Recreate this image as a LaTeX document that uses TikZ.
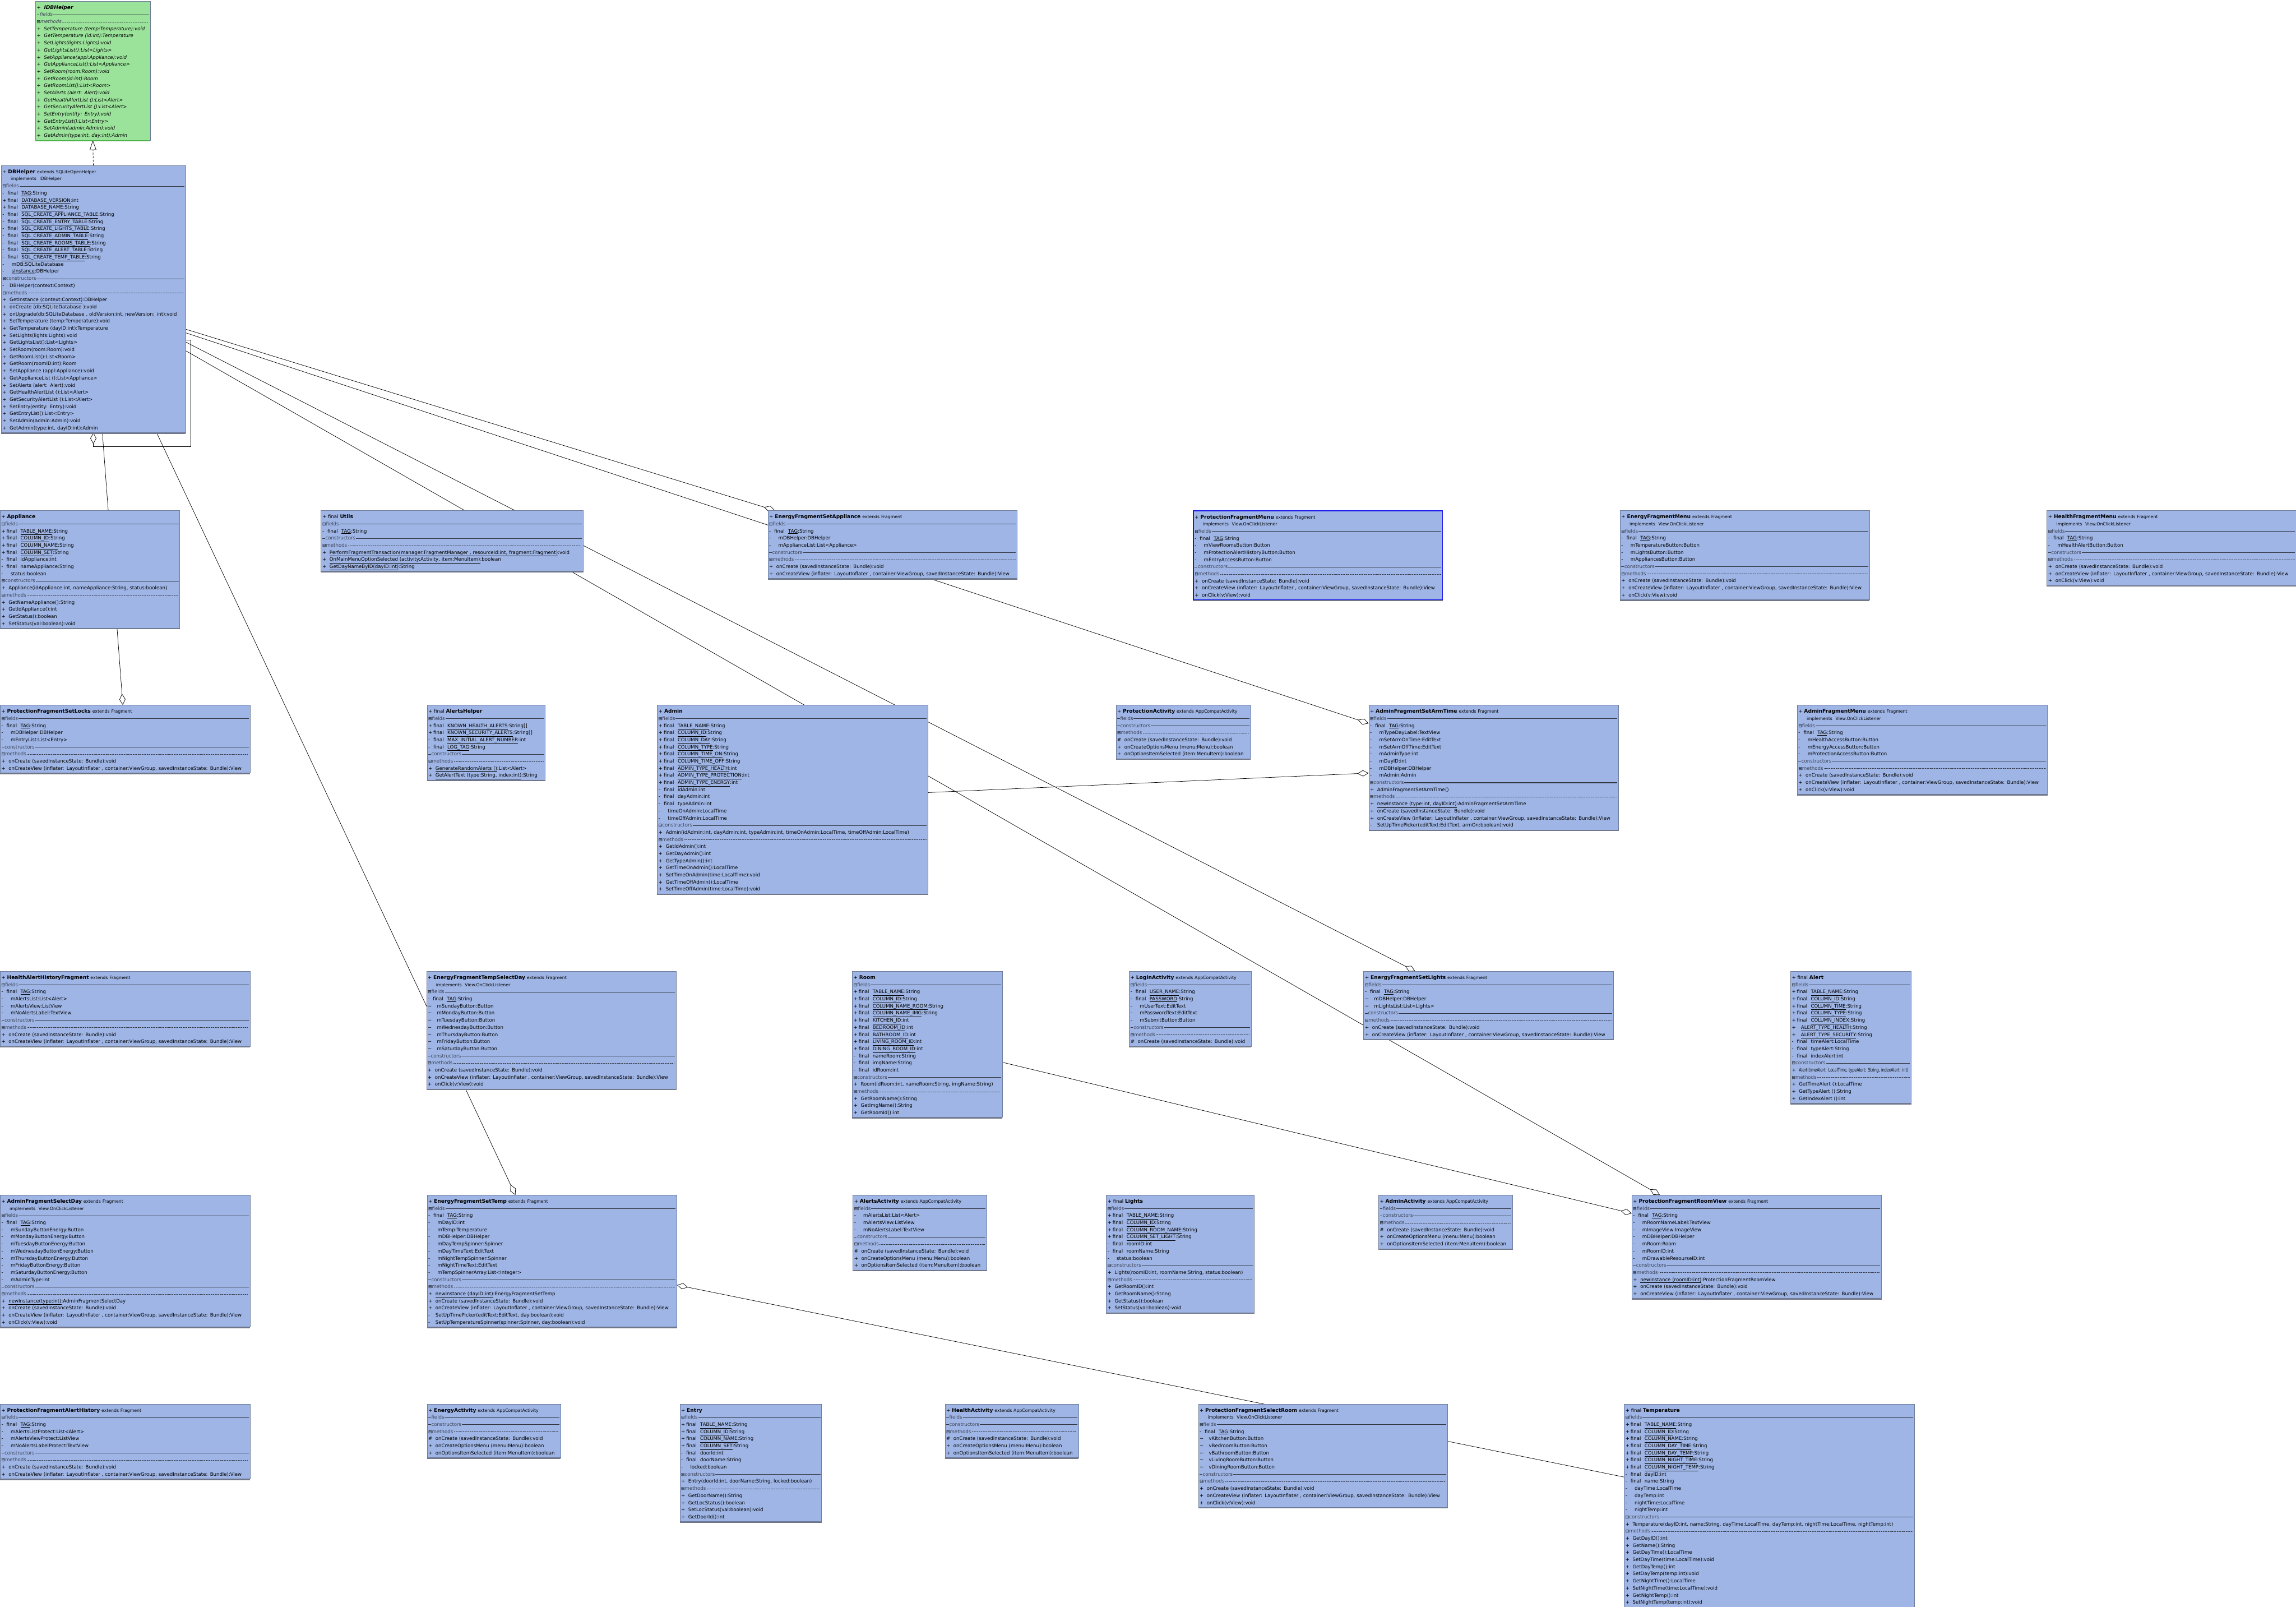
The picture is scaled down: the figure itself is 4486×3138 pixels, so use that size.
\documentclass[tikz,border=0pt]{standalone}
\usepackage{fontspec}
\usepackage{graphicx}
\setmainfont{DejaVu Sans}
\newfontfamily\symf{DejaVu Sans}
\usetikzlibrary{arrows.meta,calc}
\definecolor{clsblue}{RGB}{158,181,229}
\definecolor{clsgreen}{RGB}{155,227,155}
\definecolor{bordc}{RGB}{110,124,155}
\definecolor{shadowc}{RGB}{112,118,135}
\definecolor{hdrc}{RGB}{60,66,86}
\definecolor{rulec}{RGB}{50,54,66}
\definecolor{selc}{RGB}{20,20,235}
\pgfdeclarelayer{bg}
\pgfsetlayers{bg,main}
\newcommand\clLine[1]{\par\hbox to\hsize{\strut#1\hss}}
\newcommand\clRule{\leaders\hrule height 3.4pt depth -2.3pt\hfill}
\newcommand\clDots{\leaders\hbox to 1.6pt{\hss\vrule height 3.2pt depth -2.5pt width 0.7pt\hss}\hfill}
\newcommand\clBox{{\symf\fontsize{8.5}{8.5}\selectfont ⊟}}
\newcommand\clSec[1]{\par\hbox to\hsize{\strut\clBox{\color{hdrc}#1}\kern1pt{\color{rulec}\clRule}}}
\newcommand\clSecM[1]{\par\hbox to\hsize{\strut\clBox{\color{hdrc}#1}\kern1pt{\color{rulec}\clDots}}}
\newcommand\clSecE[1]{\par\hbox to\hsize{\strut{\color{rulec}\vrule height 3.4pt depth -2.3pt width 5pt}\kern1pt{\color{hdrc}#1}\kern1pt{\color{rulec}\clRule}}}
\newcommand\clTitle[3]{\clLine{#1{\fontsize{10}{13.9}\selectfont\bfseries #2}\ {\fontsize{8.5}{13.9}\selectfont #3}}}
\newcommand\clImpl[1]{\clLine{\hspace{16pt}{\fontsize{8.5}{13.9}\selectfont implements\ \ #1}}}
\newcommand\clSF[3]{\clLine{\makebox[10pt][l]{#1}final\hspace{7pt}\underline{#2}:#3}}
\newcommand\clFi[2]{\clLine{\makebox[10pt][l]{#1}final\hspace{7pt}#2}}
\newcommand\clSt[3]{\clLine{\makebox[10pt][l]{#1}\hspace{8pt}\underline{#2}#3}}
\newcommand\clP[2]{\clLine{\makebox[10pt][l]{#1}\hspace{8pt}#2}}
\newcommand\clMe[2]{\clLine{\makebox[10pt][l]{#1}\hspace{4pt}#2}}
\newcommand\clMeU[3]{\clLine{\makebox[10pt][l]{#1}\hspace{4pt}\underline{#2}#3}}
\newcommand\tld{\textasciitilde}
\newcommand\clTag{\clSF{-}{TAG}{String}}
\newcommand\clOnCreate{\clMe{+}{onCreate (savedInstanceState: Bundle):void}}
\newcommand\clOnCreateView{\clMe{+}{onCreateView (inflater: LayoutInflater , container:ViewGroup, savedInstanceState: Bundle):View}}
\newcommand\clOnClick{\clMe{+}{onClick(v:View):void}}
\newcommand\clActMethods{\clMe{\#}{onCreate (savedInstanceState: Bundle):void}\clMe{+}{onCreateOptionsMenu (menu:Menu):boolean}\clMe{+}{onOptionsItemSelected (item:MenuItem):boolean}}
\tikzset{
  cls/.style={draw=bordc, line width=0.7pt, fill=clsblue, anchor=north west, inner xsep=2.5pt, inner ysep=1.5pt, align=left, font={\fontsize{9.4}{13.9}\selectfont\lineskiplimit=-100pt}},
  conn/.style={line width=0.8pt, draw=black},
  agg/.style={conn, -{Diamond[length=22pt,width=12pt,fill=white]}},
  real/.style={conn, dash pattern=on 4pt off 3pt, -{Triangle[length=19pt,width=13pt,fill=white]}},
  shadowline/.style={draw=shadowc, line width=2pt}
}
\begin{document}
\begin{tikzpicture}[x=1pt,y=-1pt]
\useasboundingbox (0,0) rectangle (4486,3138);
\begin{pgfonlayer}{bg}
\fill[white] (0,0) rectangle (4486,3138);
\end{pgfonlayer}

% ---------------- row 0 / 1
\node[cls, fill=clsgreen, text width=219pt, font={\fontsize{9.4}{13.9}\selectfont\lineskiplimit=-100pt\itshape}] (idb) at (69,2) {%
\clTitle{+\ \ }{IDBHelper}{}
\clSecE{fields}
\clSecM{methods}
\clMe{+}{SetTemperature (temp:Temperature):void}
\clMe{+}{GetTemperature (id:int):Temperature}
\clMe{+}{SetLights(lights:Lights):void}
\clMe{+}{GetLightsList():List<Lights>}
\clMe{+}{SetAppliance(appl:Appliance):void}
\clMe{+}{GetApplianceList():List<Appliance>}
\clMe{+}{SetRoom(room:Room):void}
\clMe{+}{GetRoom(id:int):Room}
\clMe{+}{GetRoomList():List<Room>}
\clMe{+}{SetAlerts (alert: Alert):void}
\clMe{+}{GetHealthAlertList ():List<Alert>}
\clMe{+}{GetSecurityAlertList ():List<Alert>}
\clMe{+}{SetEntry(entity: Entry):void}
\clMe{+}{GetEntryList():List<Entry>}
\clMe{+}{SetAdmin(admin:Admin):void}
\clMe{+}{GetAdmin(type:int, day:int):Admin}};

\node[cls, text width=355pt] (dbh) at (2,323) {%
\clTitle{+\ }{DBHelper}{extends SQLiteOpenHelper}
\clImpl{IDBHelper}
\clSec{fields}
\clTag
\clSF{+}{DATABASE\_VERSION}{int}
\clSF{+}{DATABASE\_NAME}{String}
\clSF{-}{SQL\_CREATE\_APPLIANCE\_TABLE}{String}
\clSF{-}{SQL\_CREATE\_ENTRY\_TABLE}{String}
\clSF{-}{SQL\_CREATE\_LIGHTS\_TABLE}{String}
\clSF{-}{SQL\_CREATE\_ADMIN\_TABLE}{String}
\clSF{-}{SQL\_CREATE\_ROOMS\_TABLE}{String}
\clSF{-}{SQL\_CREATE\_ALERT\_TABLE}{String}
\clSF{-}{SQL\_CREATE\_TEMP\_TABLE}{String}
\clP{-}{mDB:SQLiteDatabase}
\clSt{-}{sInstance}{:DBHelper}
\clSec{constructors}
\clMe{-}{DBHelper(context:Context)}
\clSecM{methods}
\clMeU{+}{GetInstance (context:Context)}{:DBHelper}
\clMe{+}{onCreate (db:SQLiteDatabase ):void}
\clMe{+}{onUpgrade(db:SQLiteDatabase , oldVersion:int, newVersion: int):void}
\clMe{+}{SetTemperature (temp:Temperature):void}
\clMe{+}{GetTemperature (dayID:int):Temperature}
\clMe{+}{SetLights(lights:Lights):void}
\clMe{+}{GetLightsList():List<Lights>}
\clMe{+}{SetRoom(room:Room):void}
\clMe{+}{GetRoomList():List<Room>}
\clMe{+}{GetRoom(roomID:int):Room}
\clMe{+}{SetAppliance (appl:Appliance):void}
\clMe{+}{GetApplianceList ():List<Appliance>}
\clMe{+}{SetAlerts (alert: Alert):void}
\clMe{+}{GetHealthAlertList ():List<Alert>}
\clMe{+}{GetSecurityAlertList ():List<Alert>}
\clMe{+}{SetEntry(entity: Entry):void}
\clMe{+}{GetEntryList():List<Entry>}
\clMe{+}{SetAdmin(admin:Admin):void}
\clMe{+}{GetAdmin(type:int, dayID:int):Admin}};

% ---------------- row 2
\node[cls, text width=346pt] (appl) at (0,997) {%
\clTitle{+\ }{Appliance}{}
\clSec{fields}
\clSF{+}{TABLE\_NAME}{String}
\clSF{+}{COLUMN\_ID}{String}
\clSF{+}{COLUMN\_NAME}{String}
\clSF{+}{COLUMN\_SET}{String}
\clFi{-}{idAppliance:int}
\clFi{-}{nameAppliance:String}
\clP{-}{status:boolean}
\clSec{constructors}
\clMe{+}{Appliance(idAppliance:int, nameAppliance:String, status:boolean)}
\clSecM{methods}
\clMe{+}{GetNameAppliance():String}
\clMe{+}{GetIdAppliance():int}
\clMe{+}{GetStatus():boolean}
\clMe{+}{SetStatus(val:boolean):void}};

\node[cls, text width=507pt] (utils) at (627,997) {%
\clTitle{+ final\ }{Utils}{}
\clSec{fields}
\clTag
\clSecE{constructors}
\clSecM{methods}
\clMeU{+}{PerformFragmentTransaction(manager:FragmentManager , resourceId:int, fragment:Fragment)}{:void}
\clMeU{+}{OnMainMenuOptionSelected (activity:Activity, item:MenuItem)}{:boolean}
\clMeU{+}{GetDayNameByID(dayID:int)}{:String}};

\node[cls, text width=482pt] (efsa) at (1500,997) {%
\clTitle{+\ }{EnergyFragmentSetAppliance}{extends Fragment}
\clSec{fields}
\clTag
\clP{-}{mDBHelper:DBHelper}
\clP{-}{mApplianceList:List<Appliance>}
\clSecE{constructors}
\clSecM{methods}
\clOnCreate
\clOnCreateView};

\node[cls, draw=selc, line width=1.4pt, text width=482pt] (pfm) at (2331,997) {%
\clTitle{+\ }{ProtectionFragmentMenu}{extends Fragment}
\clImpl{View.OnClickListener}
\clSec{fields}
\clTag
\clP{-}{mViewRoomsButton:Button}
\clP{-}{mProtectionAlertHistoryButton:Button}
\clP{-}{mEntryAccessButton:Button}
\clSecE{constructors}
\clSecM{methods}
\clOnCreate
\clOnCreateView
\clOnClick};

\node[cls, text width=482pt] (efm) at (3165,997) {%
\clTitle{+\ }{EnergyFragmentMenu}{extends Fragment}
\clImpl{View.OnClickListener}
\clSec{fields}
\clTag
\clP{-}{mTemperatureButton:Button}
\clP{-}{mLightsButton:Button}
\clP{-}{mAppliancesButton:Button}
\clSecE{constructors}
\clSecM{methods}
\clOnCreate
\clOnCreateView
\clOnClick};

\node[cls, text width=482pt] (hfm) at (3999,997) {%
\clTitle{+\ }{HealthFragmentMenu}{extends Fragment}
\clImpl{View.OnClickListener}
\clSec{fields}
\clTag
\clP{-}{mHealthAlertButton:Button}
\clSecE{constructors}
\clSecM{methods}
\clOnCreate
\clOnCreateView
\clOnClick};

% ---------------- row 3
\node[cls, text width=483pt] (pfsl) at (0,1377) {%
\clTitle{+\ }{ProtectionFragmentSetLocks}{extends Fragment}
\clSec{fields}
\clTag
\clP{-}{mDBHelper:DBHelper}
\clP{-}{mEntryList:List<Entry>}
\clSecE{constructors}
\clSecM{methods}
\clOnCreate
\clOnCreateView};

\node[cls, text width=226pt] (ah) at (834,1377) {%
\clTitle{+ final\ }{AlertsHelper}{}
\clSec{fields}
\clSF{+}{KNOWN\_HEALTH\_ALERTS}{String[]}
\clSF{+}{KNOWN\_SECURITY\_ALERTS}{String[]}
\clSF{-}{MAX\_INITIAL\_ALERT\_NUMBER}{int}
\clSF{-}{LOG\_TAG}{String}
\clSecE{constructors}
\clSecM{methods}
\clMeU{+}{GenerateRandomAlerts ()}{:List<Alert>}
\clMeU{+}{GetAlertText (type:String, index:int)}{:String}};

\node[cls, text width=524pt] (adm) at (1284,1377) {%
\clTitle{+\ }{Admin}{}
\clSec{fields}
\clSF{+}{TABLE\_NAME}{String}
\clSF{+}{COLUMN\_ID}{String}
\clSF{+}{COLUMN\_DAY}{String}
\clSF{+}{COLUMN\_TYPE}{String}
\clSF{+}{COLUMN\_TIME\_ON}{String}
\clSF{+}{COLUMN\_TIME\_OFF}{String}
\clSF{+}{ADMIN\_TYPE\_HEALTH}{int}
\clSF{+}{ADMIN\_TYPE\_PROTECTION}{int}
\clSF{+}{ADMIN\_TYPE\_ENERGY}{int}
\clFi{-}{idAdmin:int}
\clFi{-}{dayAdmin:int}
\clFi{-}{typeAdmin:int}
\clP{-}{timeOnAdmin:LocalTime}
\clP{-}{timeOffAdmin:LocalTime}
\clSec{constructors}
\clMe{+}{Admin(idAdmin:int, dayAdmin:int, typeAdmin:int, timeOnAdmin:LocalTime, timeOffAdmin:LocalTime)}
\clSecM{methods}
\clMe{+}{GetIdAdmin():int}
\clMe{+}{GetDayAdmin():int}
\clMe{+}{GetTypeAdmin():int}
\clMe{+}{GetTimeOnAdmin():LocalTime}
\clMe{+}{SetTimeOnAdmin(time:LocalTime):void}
\clMe{+}{GetTimeOffAdmin():LocalTime}
\clMe{+}{SetTimeOffAdmin(time:LocalTime):void}};

\node[cls, text width=258pt] (pa) at (2180,1377) {%
\clTitle{+\ }{ProtectionActivity}{extends AppCompatActivity}
\clSecE{fields}
\clSecE{constructors}
\clSecM{methods}
\clActMethods};

\node[cls, text width=483pt] (afsat) at (2674,1377) {%
\clTitle{+\ }{AdminFragmentSetArmTime}{extends Fragment}
\clSec{fields}
\clTag
\clP{-}{mTypeDayLabel:TextView}
\clP{-}{mSetArmOnTime:EditText}
\clP{-}{mSetArmOffTime:EditText}
\clP{-}{mAdminType:int}
\clP{-}{mDayID:int}
\clP{-}{mDBHelper:DBHelper}
\clP{-}{mAdmin:Admin}
\clSec{constructors}
\clMe{+}{AdminFragmentSetArmTime()}
\clSecM{methods}
\clMeU{+}{newInstance (type:int, dayID:int)}{:AdminFragmentSetArmTime}
\clOnCreate
\clOnCreateView
\clMe{-}{SetUpTimePicker(editText:EditText, armOn:boolean):void}};

\node[cls, text width=484pt] (afm) at (3511,1377) {%
\clTitle{+\ }{AdminFragmentMenu}{extends Fragment}
\clImpl{View.OnClickListener}
\clSec{fields}
\clTag
\clP{-}{mHealthAccessButton:Button}
\clP{-}{mEnergyAccessButton:Button}
\clP{-}{mProtectionAccessButton:Button}
\clSecE{constructors}
\clSecM{methods}
\clOnCreate
\clOnCreateView
\clOnClick};

% ---------------- row 4
\node[cls, text width=483pt] (hah) at (0,1897) {%
\clTitle{+\ }{HealthAlertHistoryFragment}{extends Fragment}
\clSec{fields}
\clTag
\clP{-}{mAlertsList:List<Alert>}
\clP{-}{mAlertsView:ListView}
\clP{-}{mNoAlertsLabel:TextView}
\clSecE{constructors}
\clSecM{methods}
\clOnCreate
\clOnCreateView};

\node[cls, text width=483pt] (eftsd) at (833,1897) {%
\clTitle{+\ }{EnergyFragmentTempSelectDay}{extends Fragment}
\clImpl{View.OnClickListener}
\clSec{fields}
\clTag
\clP{\tld}{mSundayButton:Button}
\clP{\tld}{mMondayButton:Button}
\clP{\tld}{mTuesdayButton:Button}
\clP{\tld}{mWednesdayButton:Button}
\clP{\tld}{mThursdayButton:Button}
\clP{\tld}{mFridayButton:Button}
\clP{\tld}{mSaturdayButton:Button}
\clSecE{constructors}
\clSecM{methods}
\clOnCreate
\clOnCreateView
\clOnClick};

\node[cls, text width=288pt] (room) at (1665,1897) {%
\clTitle{+\ }{Room}{}
\clSec{fields}
\clSF{+}{TABLE\_NAME}{String}
\clSF{+}{COLUMN\_ID}{String}
\clSF{+}{COLUMN\_NAME\_ROOM}{String}
\clSF{+}{COLUMN\_NAME\_IMG}{String}
\clSF{+}{KITCHEN\_ID}{int}
\clSF{+}{BEDROOM\_ID}{int}
\clSF{+}{BATHROOM\_ID}{int}
\clSF{+}{LIVING\_ROOM\_ID}{int}
\clSF{+}{DINING\_ROOM\_ID}{int}
\clFi{-}{nameRoom:String}
\clFi{-}{imgName:String}
\clFi{-}{idRoom:int}
\clSec{constructors}
\clMe{+}{Room(idRoom:int, nameRoom:String, imgName:String)}
\clSecM{methods}
\clMe{+}{GetRoomName():String}
\clMe{+}{GetImgName():String}
\clMe{+}{GetRoomId():int}};

\node[cls, text width=233pt] (la) at (2206,1897) {%
\clTitle{+\ }{LoginActivity}{extends AppCompatActivity}
\clSec{fields}
\clSF{-}{USER\_NAME}{String}
\clSF{-}{PASSWORD}{String}
\clP{-}{mUserText:EditText}
\clP{-}{mPasswordText:EditText}
\clP{-}{mSubmitButton:Button}
\clSecE{constructors}
\clSecM{methods}
\clMe{\#}{onCreate (savedInstanceState: Bundle):void}};

\node[cls, text width=483pt] (efsl) at (2664,1897) {%
\clTitle{+\ }{EnergyFragmentSetLights}{extends Fragment}
\clSec{fields}
\clTag
\clP{\tld}{mDBHelper:DBHelper}
\clP{\tld}{mLightsList:List<Lights>}
\clSecE{constructors}
\clSecM{methods}
\clOnCreate
\clOnCreateView};

\node[cls, text width=231pt] (alert) at (3498,1897) {%
\clTitle{+ final\ }{Alert}{}
\clSec{fields}
\clSF{+}{TABLE\_NAME}{String}
\clSF{+}{COLUMN\_ID}{String}
\clSF{+}{COLUMN\_TIME}{String}
\clSF{+}{COLUMN\_TYPE}{String}
\clSF{+}{COLUMN\_INDEX}{String}
\clSt{+}{ALERT\_TYPE\_HEALTH}{:String}
\clSt{+}{ALERT\_TYPE\_SECURITY}{:String}
\clFi{-}{timeAlert:LocalTime}
\clFi{-}{typeAlert:String}
\clFi{-}{indexAlert:int}
\clSec{constructors}
\clMe{+}{\resizebox{214pt}{\height}{Alert(timeAlert: LocalTime, typeAlert: String, indexAlert: int)}}
\clSecM{methods}
\clMe{+}{GetTimeAlert ():LocalTime}
\clMe{+}{GetTypeAlert ():String}
\clMe{+}{GetIndexAlert ():int}};

% ---------------- row 5
\node[cls, text width=483pt] (afsd) at (0,2334) {%
\clTitle{+\ }{AdminFragmentSelectDay}{extends Fragment}
\clImpl{View.OnClickListener}
\clSec{fields}
\clTag
\clP{-}{mSundayButtonEnergy:Button}
\clP{-}{mMondayButtonEnergy:Button}
\clP{-}{mTuesdayButtonEnergy:Button}
\clP{-}{mWednesdayButtonEnergy:Button}
\clP{-}{mThursdayButtonEnergy:Button}
\clP{-}{mFridayButtonEnergy:Button}
\clP{-}{mSaturdayButtonEnergy:Button}
\clP{-}{mAdminType:int}
\clSecE{constructors}
\clSecM{methods}
\clMeU{+}{newInstance(type:int)}{:AdminFragmentSelectDay}
\clOnCreate
\clOnCreateView
\clOnClick};

\node[cls, text width=483pt] (efst) at (834,2334) {%
\clTitle{+\ }{EnergyFragmentSetTemp}{extends Fragment}
\clSec{fields}
\clTag
\clP{-}{mDayID:int}
\clP{-}{mTemp:Temperature}
\clP{-}{mDBHelper:DBHelper}
\clP{-}{mDayTempSpinner:Spinner}
\clP{-}{mDayTimeText:EditText}
\clP{-}{mNightTempSpinner:Spinner}
\clP{-}{mNightTimeText:EditText}
\clP{-}{mTempSpinnerArray:List<Integer>}
\clSecE{constructors}
\clSecM{methods}
\clMeU{+}{newInstance (dayID:int)}{:EnergyFragmentSetTemp}
\clOnCreate
\clOnCreateView
\clMe{-}{SetUpTimePicker(editText:EditText, day:boolean):void}
\clMe{-}{SetUpTemperatureSpinner(spinner:Spinner, day:boolean):void}};

\node[cls, text width=257pt] (aa) at (1666,2334) {%
\clTitle{+\ }{AlertsActivity}{extends AppCompatActivity}
\clSec{fields}
\clP{-}{mAlertsList:List<Alert>}
\clP{-}{mAlertsView:ListView}
\clP{-}{mNoAlertsLabel:TextView}
\clSecE{constructors}
\clSecM{methods}
\clActMethods};

\node[cls, text width=284pt] (lights) at (2161,2334) {%
\clTitle{+ final\ }{Lights}{}
\clSec{fields}
\clSF{+}{TABLE\_NAME}{String}
\clSF{+}{COLUMN\_ID}{String}
\clSF{+}{COLUMN\_ROOM\_NAME}{String}
\clSF{+}{COLUMN\_SET\_LIGHT}{String}
\clFi{-}{roomID:int}
\clFi{-}{roomName:String}
\clP{-}{status:boolean}
\clSec{constructors}
\clMe{+}{Lights(roomID:int, roomName:String, status:boolean)}
\clSecM{methods}
\clMe{+}{GetRoomID():int}
\clMe{+}{GetRoomName():String}
\clMe{+}{GetStatus():boolean}
\clMe{+}{SetStatus(val:boolean):void}};

\node[cls, text width=257pt] (adma) at (2693,2334) {%
\clTitle{+\ }{AdminActivity}{extends AppCompatActivity}
\clSecE{fields}
\clSecE{constructors}
\clSecM{methods}
\clActMethods};

\node[cls, text width=483pt] (pfrv) at (3188,2334) {%
\clTitle{+\ }{ProtectionFragmentRoomView}{extends Fragment}
\clSec{fields}
\clTag
\clP{-}{mRoomNameLabel:TextView}
\clP{-}{mImageView:ImageView}
\clP{-}{mDBHelper:DBHelper}
\clP{-}{mRoom:Room}
\clP{-}{mRoomID:int}
\clP{-}{mDrawableResourseID:int}
\clSecE{constructors}
\clSecM{methods}
\clMeU{+}{newInstance (roomID:int)}{:ProtectionFragmentRoomView}
\clOnCreate
\clOnCreateView};

% ---------------- row 6
\node[cls, text width=483pt] (pfah) at (0,2742) {%
\clTitle{+\ }{ProtectionFragmentAlertHistory}{extends Fragment}
\clSec{fields}
\clTag
\clP{-}{mAlertsListProtect:List<Alert>}
\clP{-}{mAlertsViewProtect:ListView}
\clP{-}{mNoAlertsLabelProtect:TextView}
\clSecE{constructors}
\clSecM{methods}
\clOnCreate
\clOnCreateView};

\node[cls, text width=256pt] (ea) at (834,2742) {%
\clTitle{+\ }{EnergyActivity}{extends AppCompatActivity}
\clSecE{fields}
\clSecE{constructors}
\clSecM{methods}
\clActMethods};

\node[cls, text width=272pt] (entry) at (1328,2742) {%
\clTitle{+\ }{Entry}{}
\clSec{fields}
\clSF{+}{TABLE\_NAME}{String}
\clSF{+}{COLUMN\_ID}{String}
\clSF{+}{COLUMN\_NAME}{String}
\clSF{+}{COLUMN\_SET}{String}
\clFi{-}{doorId:int}
\clFi{-}{doorName:String}
\clP{-}{locked:boolean}
\clSec{constructors}
\clMe{+}{Entry(doorId:int, doorName:String, locked:boolean)}
\clSecM{methods}
\clMe{+}{GetDoorName():String}
\clMe{+}{GetLocStatus():boolean}
\clMe{+}{SetLocStatus(val:boolean):void}
\clMe{+}{GetDoorId():int}};

\node[cls, text width=256pt] (ha) at (1846,2742) {%
\clTitle{+\ }{HealthActivity}{extends AppCompatActivity}
\clSecE{fields}
\clSecE{constructors}
\clSecM{methods}
\clActMethods};

\node[cls, text width=482pt] (pfsr) at (2341,2742) {%
\clTitle{+\ }{ProtectionFragmentSelectRoom}{extends Fragment}
\clImpl{View.OnClickListener}
\clSec{fields}
\clTag
\clP{\tld}{vKitchenButton:Button}
\clP{\tld}{vBedroomButton:Button}
\clP{\tld}{vBathroomButton:Button}
\clP{\tld}{vLivingRoomButton:Button}
\clP{\tld}{vDiningRoomButton:Button}
\clSecE{constructors}
\clSecM{methods}
\clOnCreate
\clOnCreateView
\clOnClick};

\node[cls, text width=562pt] (temp) at (3173,2742) {%
\clTitle{+ final\ }{Temperature}{}
\clSec{fields}
\clSF{+}{TABLE\_NAME}{String}
\clSF{+}{COLUMN\_ID}{String}
\clSF{+}{COLUMN\_NAME}{String}
\clSF{+}{COLUMN\_DAY\_TIME}{String}
\clSF{+}{COLUMN\_DAY\_TEMP}{String}
\clSF{+}{COLUMN\_NIGHT\_TIME}{String}
\clSF{+}{COLUMN\_NIGHT\_TEMP}{String}
\clFi{-}{dayID:int}
\clFi{-}{name:String}
\clP{-}{dayTime:LocalTime}
\clP{-}{dayTemp:int}
\clP{-}{nightTime:LocalTime}
\clP{-}{nightTemp:int}
\clSec{constructors}
\clMe{+}{Temperature(dayID:int, name:String, dayTime:LocalTime, dayTemp:int, nightTime:LocalTime, nightTemp:int)}
\clSecM{methods}
\clMe{+}{GetDayID():int}
\clMe{+}{GetName():String}
\clMe{+}{GetDayTime():LocalTime}
\clMe{+}{SetDayTime(time:LocalTime):void}
\clMe{+}{GetDayTemp():int}
\clMe{+}{SetDayTemp(temp:int):void}
\clMe{+}{GetNightTime():LocalTime}
\clMe{+}{SetNightTime(time:LocalTime):void}
\clMe{+}{GetNightTemp():int}
\clMe{+}{SetNightTemp(temp:int):void}};

% bottom shadows
\foreach \n in {dbh,appl,utils,efsa,pfm,efm,hfm,pfsl,ah,adm,pa,afsat,afm,hah,eftsd,room,la,efsl,alert,afsd,efst,aa,lights,adma,pfrv,pfah,ea,entry,ha,pfsr,temp}
  \draw[shadowline] ([yshift=-1pt]\n.south west) -- ([yshift=-1pt]\n.south east);
\draw[shadowline, draw=green!40!gray] ([yshift=-1pt]idb.south west) -- ([yshift=-1pt]idb.south east);

% ---------------- connectors (behind the boxes)
\begin{pgfonlayer}{bg}
\draw[real] (dbh.north) -- (idb.south);
\draw[agg] (dbh.east |- 0,664) -- (373,664) -- (373,872) -- (dbh.south |- 0,872) -- (dbh.south);
\draw[agg] (dbh.east |- 0,643) -- ($(efsa.north west)+(14,0)$);
\draw[agg] (dbh.east |- 0,650) -- (afsat.west |- 0,1413);
\draw[agg] (dbh.east |- 0,668) -- ($(efsl.north west)+(101,0)$);
\draw[agg] (dbh.east |- 0,685) -- ($(pfrv.north west)+(55,0)$);
\draw[agg] ($(dbh.south west)+(198,0)$) -- ($(pfsl.north west)+(240,0)$);
\draw[agg] ($(dbh.south west)+(304,0)$) -- ($(efst.north west)+(173,0)$);
\draw[agg] (adm.east |- 0,1548) -- (afsat.west |- 0,1510);
\draw[agg] (room.east |- 0,2075) -- (pfrv.west |- 0,2370);
\draw[agg] (temp.west |- 0,2885) -- (efst.east |- 0,2510);
\end{pgfonlayer}
\end{tikzpicture}
\end{document}
